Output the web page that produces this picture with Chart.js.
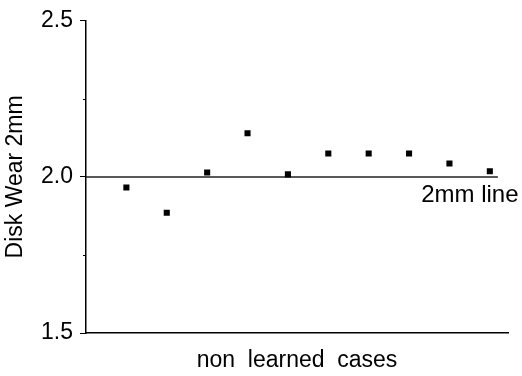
<!DOCTYPE html>
<html>
<head>
<meta charset="utf-8">
<script src="https://cdn.jsdelivr.net/npm/chart.js@4/dist/chart.umd.min.js"></script>
<style>
  html, body { margin: 0; padding: 0; background: #fff; }
  #wrap { width: 522px; height: 376px; }
</style>
</head>
<body>
<div id="wrap"><canvas id="wear-chart"></canvas></div>
<script>
// values
const caseIndex = [1, 2, 3, 4, 5, 6, 7, 8, 9, 10];
const diskWear = [1.966, 1.885, 2.014, 2.14, 2.008, 2.075, 2.075, 2.075, 2.043, 2.018];
const yTicks = [1.5, 2.0, 2.5];
const refLevel = 2.0;
const refLineX = [0, 10.2];
const refLabel = '2mm line';
const refLabelAt = { x: 8.3, y: 1.942 };

const FONT = 'Liberation Sans, Arial, Helvetica, sans-serif';

// draws the text next to the 2mm reference line
const refLabelPlugin = {
  id: 'refLabel',
  afterDatasetsDraw(chart) {
    const { ctx, scales } = chart;
    ctx.save();
    ctx.font = '24px ' + FONT;
    ctx.fillStyle = '#000';
    ctx.textAlign = 'left';
    ctx.textBaseline = 'middle';
    ctx.fillText(refLabel, scales.x.getPixelForValue(refLabelAt.x), scales.y.getPixelForValue(refLabelAt.y));
    ctx.restore();
  }
};

// short minor ticks between the labelled ones
const minorTicks = {
  id: 'minorTicks',
  afterDraw(chart) {
    const { ctx, scales } = chart;
    const x0 = scales.y.right;
    ctx.save();
    ctx.strokeStyle = '#000';
    ctx.lineWidth = 1;
    for (let i = 0; i < yTicks.length - 1; i++) {
      const y = Math.round(scales.y.getPixelForValue((yTicks[i] + yTicks[i + 1]) / 2)) + 0.5;
      ctx.beginPath();
      ctx.moveTo(x0 - 3, y);
      ctx.lineTo(x0, y);
      ctx.stroke();
    }
    ctx.restore();
  }
};

const ctx = document.getElementById('wear-chart').getContext('2d');
new Chart(ctx, {
  type: 'scatter',
  data: {
    datasets: [
      {
        label: 'Disk Wear',
        data: caseIndex.map((c, i) => ({ x: c, y: diskWear[i] })),
        pointStyle: 'rect',
        pointRadius: 4.3,
        backgroundColor: '#000',
        borderColor: '#000',
        borderWidth: 0
      },
      {
        label: refLabel,
        type: 'line',
        data: refLineX.map(x => ({ x: x, y: refLevel })),
        borderColor: '#222',
        borderWidth: 1.5,
        pointRadius: 0,
        fill: false
      }
    ]
  },
  options: {
    responsive: true,
    maintainAspectRatio: false,
    animation: false,
    layout: { padding: { top: 20, right: 14, left: 0, bottom: 0 } },
    plugins: { legend: { display: false }, tooltip: { enabled: false } },
    scales: {
      x: {
        type: 'linear',
        min: 0,
        max: 10.45,
        grid: { display: false, drawTicks: false },
        border: { display: true, color: '#000', width: 1.5 },
        ticks: { display: false },
        title: {
          display: true,
          text: 'non  learned  cases',
          color: '#000',
          font: { family: FONT, size: 23 },
          padding: { top: 0, bottom: 2 }
        },
        afterFit(scale) { scale.height = 43; }
      },
      y: {
        min: 1.5,
        max: 2.5,
        afterBuildTicks(scale) { scale.ticks = yTicks.map(v => ({ value: v })); },
        grid: { drawOnChartArea: false, drawTicks: true, tickLength: 6, tickColor: '#000', tickWidth: 1 },
        border: { display: true, color: '#000', width: 1.5 },
        ticks: {
          color: '#000',
          padding: 7,
          font: { family: FONT, size: 23 },
          callback: v => v.toFixed(1)
        },
        title: {
          display: true,
          text: 'Disk Wear 2mm',
          color: '#000',
          font: { family: FONT, size: 23 },
          padding: { top: 2, bottom: 0 }
        },
        afterFit(scale) { scale.width = 86; }
      }
    }
  },
  plugins: [refLabelPlugin, minorTicks]
});
</script>
</body>
</html>
